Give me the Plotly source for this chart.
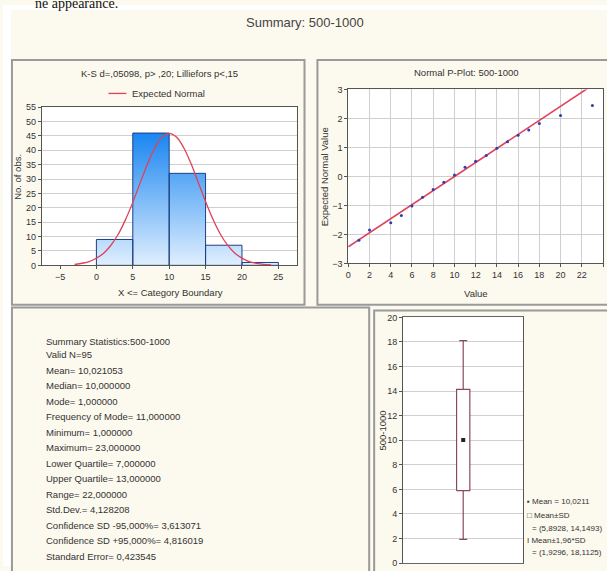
import plotly.graph_objects as go

W, H = 607, 571

# ---------------- data ----------------
bin_left = [0, 5, 10, 15, 20]
bin_right = [5, 10, 15, 20, 25]
counts = [9, 46, 32, 7, 1]

normal_x = [-3, -1, 0, 1, 2, 3, 4, 5, 6, 7, 8, 9, 10, 11, 12, 13, 14, 15, 16, 17, 18, 19, 20, 21, 22, 23, 24]
normal_y = [0.3, 1.3, 2.5, 4.2, 7.0, 10.8, 15.9, 21.9, 28.6, 35.1, 40.7, 44.5, 45.9, 44.6, 40.9, 35.4, 28.8,
            22.2, 16.1, 11.0, 7.1, 4.3, 2.5, 1.3, 0.7, 0.33, 0.15]

pp_x = [1, 2, 4, 5, 6, 7, 8, 9, 10, 11, 12, 13, 14, 15, 16, 17, 18, 20, 23]
pp_y = [-2.2, -1.85, -1.6, -1.35, -1.02, -0.72, -0.45, -0.2, 0.05, 0.32, 0.52, 0.72, 0.97, 1.2, 1.42,
        1.6, 1.83, 2.1, 2.45]
pp_line_x = [0, 24]
pp_line_y = [-2.43, 3.39]

box_mean = 10.0211
box_lo, box_hi = 5.8928, 14.1493
whisk_lo, whisk_hi = 1.9296, 18.1125

stats_lines = [
    "Summary Statistics:500-1000",
    "Valid N=95",
    "Mean= 10,021053",
    "Median= 10,000000",
    "Mode= 1,000000",
    "Frequency of Mode= 11,000000",
    "Minimum= 1,000000",
    "Maximum= 23,000000",
    "Lower Quartile= 7,000000",
    "Upper Quartile= 13,000000",
    "Range= 22,000000",
    "Std.Dev.= 4,128208",
    "Confidence SD -95,000%= 3,613071",
    "Confidence SD +95,000%= 4,816019",
    "Standard Error= 0,423545",
]

# ---------------- helpers (layout only) ----------------
def X(px):
    return px / W


def Y(py):
    return 1 - py / H


FONT = "Liberation Sans, Arial, sans-serif"
TXT = "#333333"
BEIGE = "#fcf9ee"

fig = go.Figure()

# histogram bars (gradient filled polygons built from bin edges and counts)
hx, hy = [], []
for l, r, c in zip(bin_left, bin_right, counts):
    hx += [l, l, r, r, l, None]
    hy += [0, c, c, 0, 0, None]
fig.add_trace(go.Scatter(
    x=hx, y=hy, mode="lines", fill="toself",
    line=dict(color="#1d3f86", width=1),
    fillgradient=dict(type="vertical", start=0, stop=max(counts),
                      colorscale=[[0, "#e4f1ff"], [1, "#1a86f0"]]),
    xaxis="x", yaxis="y", hoverinfo="skip"))
fig.add_trace(go.Scatter(
    x=normal_x, y=normal_y, mode="lines", line=dict(color="#e0405a", width=1.3, shape="spline"),
    xaxis="x", yaxis="y"))

# P-plot
fig.add_trace(go.Scatter(x=pp_line_x, y=pp_line_y, mode="lines",
                         line=dict(color="#e0405a", width=1.6), xaxis="x2", yaxis="y2"))
fig.add_trace(go.Scatter(x=pp_x, y=pp_y, mode="markers",
                         marker=dict(color="#2a3fb0", size=3, symbol="circle"),
                         xaxis="x2", yaxis="y2"))

# box plot
bw = 0.11
fig.add_trace(go.Scatter(
    x=[0, 0, None, 0, 0, None, -bw * 0.6, bw * 0.6, None, -bw * 0.6, bw * 0.6],
    y=[whisk_lo, box_lo, None, box_hi, whisk_hi, None, whisk_lo, whisk_lo, None, whisk_hi, whisk_hi],
    mode="lines", line=dict(color="#8a4a5a", width=1.2), xaxis="x3", yaxis="y3"))
fig.add_trace(go.Scatter(
    x=[-bw, -bw, bw, bw, -bw], y=[box_lo, box_hi, box_hi, box_lo, box_lo],
    mode="lines", line=dict(color="#8a4a5a", width=1.2), fill="toself", fillcolor="white",
    xaxis="x3", yaxis="y3"))
fig.add_trace(go.Scatter(x=[0], y=[box_mean], mode="markers",
                         marker=dict(color="#222222", size=4, symbol="square"),
                         xaxis="x3", yaxis="y3"))

tickf = dict(family=FONT, size=9, color=TXT)
grid = "#cfcfcf"
common = dict(showline=True, linecolor="#555555", linewidth=1, mirror=True,
              ticks="outside", ticklen=3, tickcolor="#555555", tickfont=tickf, zeroline=False)

fig.update_layout(
    width=W, height=H, margin=dict(l=0, r=0, t=0, b=0),
    paper_bgcolor=BEIGE, plot_bgcolor="white", showlegend=False,
    xaxis=dict(domain=[X(39), X(295)], range=[-7.5, 27.5], tickvals=[-5, 0, 5, 10, 15, 20, 25],
               showgrid=False, anchor="y", **common),
    yaxis=dict(domain=[Y(265), Y(104)], range=[0, 55], dtick=5, showgrid=True, gridcolor=grid,
               anchor="x", **common),
    xaxis2=dict(domain=[X(347), X(603)], range=[0, 24], dtick=2, showgrid=True, gridcolor=grid,
                anchor="y2", **common),
    yaxis2=dict(domain=[Y(263), Y(86)], range=[-3, 3], dtick=1, showgrid=True, gridcolor=grid,
                anchor="x2", **common),
    xaxis3=dict(domain=[X(402), X(523)], range=[-1, 1], showticklabels=False, showgrid=False,
                anchor="y3", showline=True, linecolor="#666666", mirror=True, zeroline=False),
    yaxis3=dict(domain=[Y(568), Y(318)], range=[0, 20], dtick=2, showgrid=True, gridcolor=grid,
                anchor="x3", **common),
)

shapes = []
# white margins of the screenshot
shapes.append(dict(type="rect", xref="paper", yref="paper", x0=0, x1=X(8), y0=0, y1=1,
                   fillcolor="white", line=dict(width=0), layer="below"))
shapes.append(dict(type="rect", xref="paper", yref="paper", x0=0, x1=1, y0=Y(5), y1=1,
                   fillcolor="white", line=dict(width=0), layer="below"))
# panel frames
for (x0, y0, x1, y1) in [(9, 56, 303, 305), (316, 56, 612, 305), (9, 308, 368, 590), (373, 311, 612, 590)]:
    shapes.append(dict(type="rect", xref="paper", yref="paper", x0=X(x0), x1=X(x1), y0=Y(y1), y1=Y(y0),
                       line=dict(color="#9a9a9a", width=2), layer="below"))
# legend line for expected normal
shapes.append(dict(type="line", xref="paper", yref="paper", x0=X(106), x1=X(124), y0=Y(90), y1=Y(90),
                   line=dict(color="#e0405a", width=1.3)))
fig.update_layout(shapes=shapes)

ann = []


def A(text, px, py, size=9.5, xanchor="left", angle=0, color=TXT, family=FONT):
    ann.append(dict(text=text, xref="paper", yref="paper", x=X(px), y=Y(py), showarrow=False,
                    xanchor=xanchor, yanchor="middle", textangle=angle,
                    font=dict(family=family, size=size, color=color)))


A("ne appearance.", 30, -2, size=14, color="#111111", family="Liberation Serif, serif")
A("Summary: 500-1000", 303, 18, size=13, xanchor="center", color="#444444")
A("K-S d=,05098, p> ,20; Lilliefors p<,15", 157, 70, xanchor="center")
A("Expected Normal", 128, 90)
A("No. of obs.", 15, 175, xanchor="center", angle=-90)
A("X <= Category Boundary", 168, 293, xanchor="center")
A("Normal P-Plot: 500-1000", 466, 69, xanchor="center")
A("Expected Normal Value", 324, 175, xanchor="center", angle=-90)
A("Value", 475, 294, xanchor="center")
A("500-1000", 381, 433, xanchor="center", angle=-90)

for i, line in enumerate(stats_lines):
    py = 343 if i == 0 else 356 + (i - 1) * (561 - 356) / (len(stats_lines) - 2)
    A(line, 41, py)

A("▪ Mean = 10,0211", 525, 505, size=8)
A("□ Mean±SD", 525, 520, size=8)
A("= (5,8928, 14,1493)", 530, 533, size=8)
A("I Mean±1,96*SD", 525, 545, size=8)
A("= (1,9296, 18,1125)", 530, 557, size=8)

fig.update_layout(annotations=ann)

fig.write_html("out.html", config={"displayModeBar": False},
               post_script="document.body.style.margin='0';document.body.style.overflow='hidden';")
